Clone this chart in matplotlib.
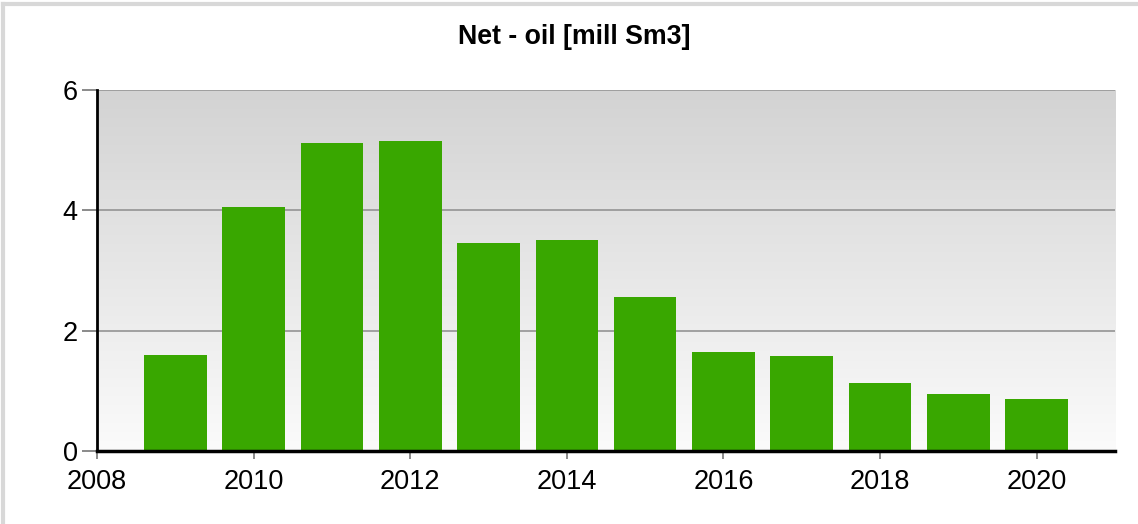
import numpy as np
import matplotlib.pyplot as plt
from matplotlib.colors import LinearSegmentedColormap

# values
years = [2009, 2010, 2011, 2012, 2013, 2014, 2015, 2016, 2017, 2018, 2019, 2020]
net_oil = [1.59, 4.05, 5.12, 5.15, 3.46, 3.51, 2.56, 1.64, 1.58, 1.13, 0.94, 0.86]
y_ticks = [0, 2, 4, 6]
x_ticks = [2008, 2010, 2012, 2014, 2016, 2018, 2020]

plt.rcParams['font.family'] = ['Liberation Sans', 'DejaVu Sans']

fig = plt.figure(figsize=(11.38, 5.24), dpi=100)
ax = fig.add_axes([0.0852, 0.1393, 0.8946, 0.6889])
ax.set_xlim(2008, 2021)
ax.set_ylim(0, 6)

# gradient background, grey at top to almost white at bottom
grad = LinearSegmentedColormap.from_list('bg', ['#fbfbfb', '#d3d3d3'])
ax.imshow(np.linspace(0, 1, 256).reshape(-1, 1), cmap=grad, origin='lower',
          extent=[2008, 2021, 0, 6], aspect='auto', zorder=0)

for y in y_ticks[1:]:
    ax.axhline(y, color='#9a9a9a', lw=1.3, zorder=1)

ax.bar(years, net_oil, width=0.8, color='#39a700', zorder=2)

ax.set_xticks(x_ticks)
ax.set_yticks(y_ticks)
ax.tick_params(axis='both', labelsize=19.5, colors='#777777', labelcolor='black')
ax.tick_params(axis='y', length=11, width=1.2, pad=3)
ax.tick_params(axis='x', length=6, width=1.2, pad=7)

for s in ['top', 'right']:
    ax.spines[s].set_visible(False)
ax.spines['left'].set_linewidth(2)
ax.spines['bottom'].set_linewidth(2.5)
ax.spines['left'].set_zorder(3)
ax.spines['bottom'].set_zorder(3)

fig.text(0.505, 0.93, 'Net - oil [mill Sm3]', ha='center', va='center',
         fontsize=19.3, fontweight='bold')

# light frame visible on the left and top edges
fig.add_artist(plt.Line2D([0.003, 0.003], [0, 0.992], color='#d8d8d8', lw=3,
                          transform=fig.transFigure))
fig.add_artist(plt.Line2D([0.003, 1], [0.992, 0.992], color='#d8d8d8', lw=3,
                          transform=fig.transFigure))

fig.savefig('out.png', dpi=100)
